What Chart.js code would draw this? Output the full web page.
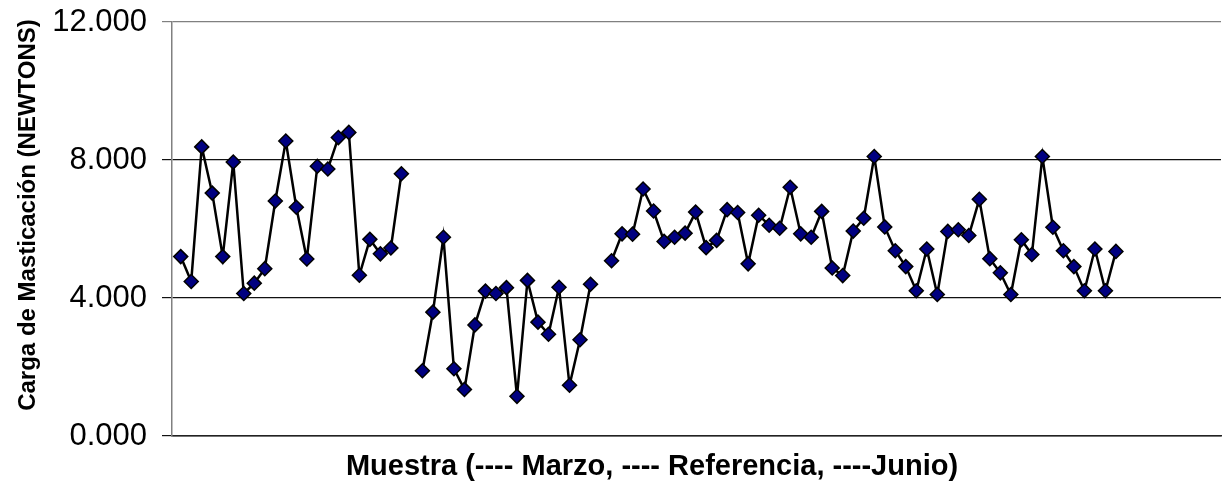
<!DOCTYPE html>
<html>
<head>
<meta charset="utf-8">
<script src="https://cdn.jsdelivr.net/npm/chart.js@4.4.1/dist/chart.umd.min.js"></script>
<style>
  html, body { margin: 0; padding: 0; background: #ffffff; }
  #wrap { width: 1232px; height: 501px; }
</style>
</head>
<body>
<div id="wrap"><canvas id="grafico" width="1232" height="501"></canvas></div>
<script>
// Carga de masticación por muestra (miles de N), tres grupos de medición
const muestrasMarzo = [1, 2, 3, 4, 5, 6, 7, 8, 9, 10, 11, 12, 13, 14, 15, 16, 17, 18, 19, 20, 21, 22];
const cargaMarzo = [5.20, 4.48, 8.38, 7.04, 5.20, 7.94, 4.13, 4.43, 4.85, 6.81, 8.55, 6.63, 5.13, 7.82, 7.74, 8.65, 8.80, 4.66, 5.70, 5.28, 5.45, 7.60];

const muestrasReferencia = [24, 25, 26, 27, 28, 29, 30, 31, 32, 33, 34, 35, 36, 37, 38, 39, 40];
const cargaReferencia = [1.89, 3.59, 5.76, 1.95, 1.35, 3.22, 4.20, 4.13, 4.30, 1.15, 4.51, 3.30, 2.95, 4.31, 1.47, 2.79, 4.40];

const muestrasJunio = [42, 43, 44, 45, 46, 47, 48, 49, 50, 51, 52, 53, 54, 55, 56, 57, 58, 59, 60, 61, 62, 63, 64, 65, 66,
  67, 68, 69, 70, 71, 72, 73, 74, 75, 76, 77, 78, 79, 80, 81, 82, 83, 84, 85, 86, 87, 88, 89, 90];
const cargaJunio = [5.08, 5.86, 5.85, 7.16, 6.52, 5.64, 5.76, 5.88, 6.49, 5.46, 5.67, 6.56, 6.48, 4.99, 6.40, 6.11, 6.02,
  7.21, 5.86, 5.76, 6.51, 4.87, 4.65, 5.94, 6.31, 8.10, 6.06, 5.37, 4.91, 4.21, 5.42, 4.10, 5.93, 5.98, 5.81, 6.86,
  5.14, 4.73, 4.10, 5.69, 5.26, 8.10, 6.05, 5.37, 4.91, 4.21, 5.42, 4.21, 5.35];

const marcasY = [0, 4, 8, 12];

const tituloY = 'Carga de Masticación (NEWTONS)';
const tituloX = 'Muestra (---- Marzo, ---- Referencia, ----Junio)';

const FUENTE = '"Liberation Sans", Arial, sans-serif';

function puntos(xs, ys) {
  return xs.map((x, i) => ({ x: x, y: ys[i] }));
}

function serie(nombre, xs, ys) {
  return {
    label: nombre,
    data: puntos(xs, ys),
    borderColor: '#000000',
    borderWidth: 2.5,
    pointStyle: 'rectRot',
    pointRadius: 7,
    pointHoverRadius: 7,
    pointBackgroundColor: '#000080',
    pointBorderColor: '#000000',
    pointBorderWidth: 1.5,
    tension: 0,
    fill: false
  };
}

// Títulos de los ejes dibujados sobre el lienzo
const titulosEjes = {
  id: 'titulosEjes',
  afterDraw(chart) {
    const ctx = chart.ctx;
    ctx.save();
    ctx.fillStyle = '#000000';
    ctx.textAlign = 'center';
    ctx.textBaseline = 'middle';
    ctx.font = 'bold 24px ' + FUENTE;
    ctx.translate(28, 215);
    ctx.rotate(-Math.PI / 2);
    ctx.fillText(tituloY, 0, 0);
    ctx.restore();

    ctx.save();
    ctx.fillStyle = '#000000';
    ctx.textAlign = 'center';
    ctx.textBaseline = 'middle';
    ctx.font = 'bold 29px ' + FUENTE;
    ctx.fillText(tituloX, 652, 467);
    ctx.restore();
  }
};

new Chart(document.getElementById('grafico'), {
  type: 'line',
  data: {
    datasets: [
      serie('Marzo', muestrasMarzo, cargaMarzo),
      serie('Referencia', muestrasReferencia, cargaReferencia),
      serie('Junio', muestrasJunio, cargaJunio)
    ]
  },
  options: {
    responsive: false,
    animation: false,
    devicePixelRatio: 1,
    layout: { padding: { top: 22, right: 11, left: 0, bottom: 0 } },
    plugins: {
      legend: { display: false },
      tooltip: { enabled: false },
      title: { display: false }
    },
    scales: {
      x: {
        type: 'linear',
        min: 0.17,
        max: 100,
        ticks: { display: false },
        grid: { display: false, drawTicks: false },
        border: { display: true, color: '#222222', width: 1.5 },
        afterFit(scale) { scale.height = 65; }
      },
      y: {
        min: 0,
        max: 12,
        afterBuildTicks(scale) {
          scale.ticks = marcasY.map(v => ({ value: v }));
        },
        ticks: {
          padding: 15,
          color: '#000000',
          font: { family: FUENTE, size: 31 },
          callback: v => Number(v).toFixed(3)
        },
        grid: {
          drawTicks: true,
          tickLength: 10,
          lineWidth: 1.2,
          color: ctx => (ctx.tick && ctx.tick.value === 12 ? '#808080' : '#111111'),
          tickColor: ctx => (ctx.tick && ctx.tick.value === 12 ? '#808080' : '#111111')
        },
        border: { display: true, color: '#808080', width: 1.5 },
        afterFit(scale) {
          scale.width = 172;
          scale.paddingTop = 0;
          scale.paddingBottom = 0;
        }
      }
    }
  },
  plugins: [titulosEjes]
});
</script>
</body>
</html>
